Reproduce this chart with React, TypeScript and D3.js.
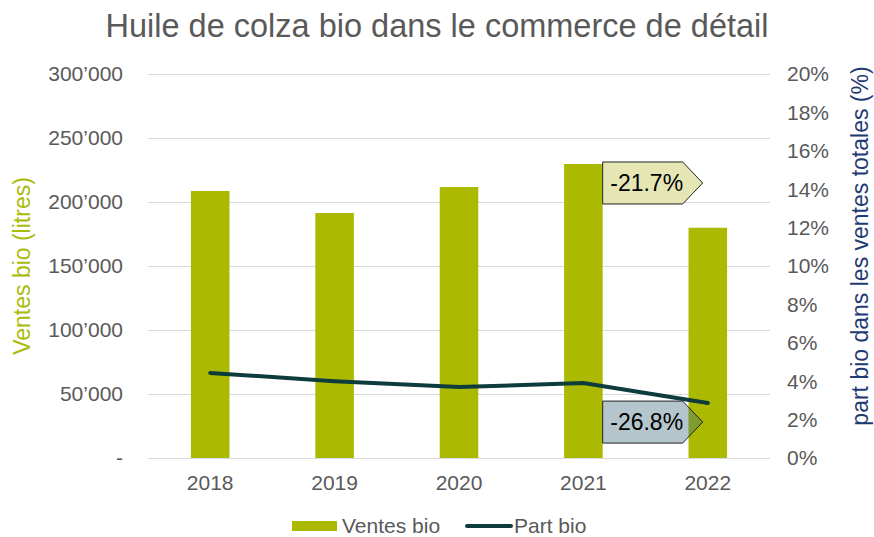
import React, { useEffect, useRef } from 'react';
import * as d3 from 'd3';

// Données
const years = ['2018', '2019', '2020', '2021', '2022'];
const ventesBio = [208600, 191400, 211700, 229700, 179900];
const partBio = [4.43, 4.0, 3.7, 3.9, 2.86];
const leftTicks = [0, 50000, 100000, 150000, 200000, 250000, 300000];
const rightTicks = [0, 2, 4, 6, 8, 10, 12, 14, 16, 18, 20];
const callouts = [
  { label: '-21.7%', year: '2021', value: 229700, fill: '#e6e6b5', opacity: 1 },
  { label: '-26.8%', year: '2021', value: 2.86, fill: '#3a6a78', opacity: 0.38 },
];

const W = 874;
const H = 537;
const FONT = '"Liberation Sans", Arial, sans-serif';
const GREY = '#595959';
const BAR = '#abba00';
const LINE = '#0e3b3c';

const App = () => {
  const ref = useRef<SVGSVGElement>(null);

  useEffect(() => {
    const svg = d3.select(ref.current);
    svg.selectAll('*').remove();

    const margin = { top: 74, right: 104, bottom: 79, left: 148 };
    const width = W - margin.left - margin.right;
    const height = H - margin.top - margin.bottom;

    const x = d3.scaleBand().domain(years).range([0, width]).paddingInner(0.69).paddingOuter(0.345);
    const y = d3.scaleLinear().domain([0, 300000]).range([height, 0]);
    const y2 = d3.scaleLinear().domain([0, 20]).range([height, 0]);

    const g = svg.append('g').attr('transform', `translate(${margin.left},${margin.top})`);

    // Titre
    svg.append('text')
      .attr('x', 437).attr('y', 37)
      .attr('text-anchor', 'middle')
      .attr('font-size', 32.5).attr('fill', GREY)
      .text('Huile de colza bio dans le commerce de détail');

    // Grille
    g.selectAll('.grid').data(leftTicks).join('line')
      .attr('x1', 0).attr('x2', width)
      .attr('y1', d => Math.round(y(d)) + 0.5).attr('y2', d => Math.round(y(d)) + 0.5)
      .attr('stroke', '#d9d9d9').attr('stroke-width', 1);

    // Axe gauche
    g.selectAll('.lt').data(leftTicks).join('text')
      .attr('x', -25).attr('y', d => y(d)).attr('dy', '0.35em')
      .attr('text-anchor', 'end').attr('font-size', 21).attr('fill', GREY)
      .text(d => (d === 0 ? '-' : d3.format(',')(d).replace(/,/g, '\u2019')));

    // Axe droit
    g.selectAll('.rt').data(rightTicks).join('text')
      .attr('x', width + 17).attr('y', d => y2(d)).attr('dy', '0.35em')
      .attr('text-anchor', 'start').attr('font-size', 21).attr('fill', GREY)
      .text(d => `${d}%`);

    // Axe x
    g.selectAll('.xt').data(years).join('text')
      .attr('x', d => x(d)! + x.bandwidth() / 2).attr('y', height + 32)
      .attr('text-anchor', 'middle').attr('font-size', 21).attr('fill', GREY)
      .text(d => d);

    // Titres des axes
    svg.append('text')
      .attr('transform', `translate(30,266) rotate(-90)`)
      .attr('text-anchor', 'middle').attr('font-size', 23).attr('fill', '#a8bb08')
      .text('Ventes bio (litres)');
    svg.append('text')
      .attr('transform', `translate(868,246) rotate(-90)`)
      .attr('text-anchor', 'middle').attr('font-size', 23).attr('fill', '#1f3b73')
      .text('part bio dans les ventes totales (%)');

    // Barres
    g.selectAll('.bar').data(years).join('rect')
      .attr('x', d => x(d)!)
      .attr('y', (d, i) => y(ventesBio[i]))
      .attr('width', x.bandwidth())
      .attr('height', (d, i) => height - y(ventesBio[i]))
      .attr('fill', BAR);

    // Bulles
    const drawCallout = (c: typeof callouts[number], cy: number) => {
      const bx = x(c.year)! + x.bandwidth();
      const bw = 80;
      const bh = 42;
      const tip = 20;
      const top = cy - bh / 2;
      const path = `M${bx},${top} H${bx + bw} L${bx + bw + tip},${cy} L${bx + bw},${top + bh} H${bx} Z`;
      g.append('path').attr('d', path)
        .attr('fill', c.fill).attr('fill-opacity', c.opacity)
        .attr('stroke', '#222').attr('stroke-width', 1);
      g.append('text')
        .attr('x', bx + 44).attr('y', cy).attr('dy', '0.35em')
        .attr('text-anchor', 'middle').attr('font-size', 23).attr('fill', '#000')
        .text(c.label);
    };
    drawCallout(callouts[0], y(callouts[0].value) + 19);
    drawCallout(callouts[1], y2(callouts[1].value) + 19);

    // Ligne
    const line = d3.line<number>()
      .x((d, i) => x(years[i])! + x.bandwidth() / 2)
      .y(d => y2(d));
    g.append('path').datum(partBio)
      .attr('fill', 'none').attr('stroke', LINE)
      .attr('stroke-width', 4).attr('stroke-linecap', 'round')
      .attr('d', line);

    // Légende
    const lg = svg.append('g');
    lg.append('rect').attr('x', 292).attr('y', 521).attr('width', 45).attr('height', 10).attr('fill', BAR);
    lg.append('text').attr('x', 342).attr('y', 533).attr('font-size', 21).attr('fill', GREY).text('Ventes bio');
    lg.append('line').attr('x1', 467).attr('x2', 511).attr('y1', 526).attr('y2', 526)
      .attr('stroke', LINE).attr('stroke-width', 4).attr('stroke-linecap', 'round');
    lg.append('text').attr('x', 514).attr('y', 533).attr('font-size', 21).attr('fill', GREY).text('Part bio');
  }, []);

  return (
    <svg ref={ref} width={W} height={H} fontFamily={FONT}
      style={{ position: 'absolute', left: 0, top: 0, background: '#fff' }} />
  );
};

export default App;
